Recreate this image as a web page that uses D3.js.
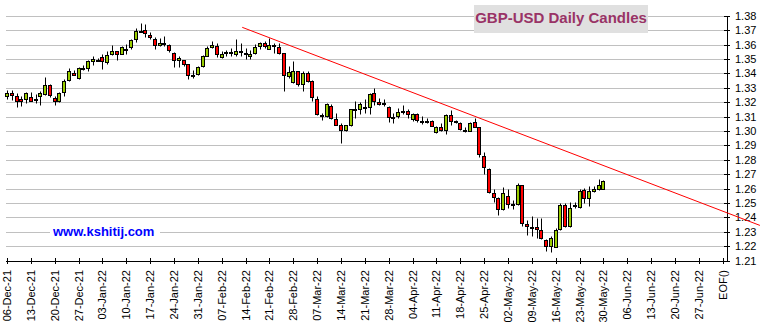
<!DOCTYPE html>
<html>
<head>
<meta charset="utf-8">
<script src="https://cdn.jsdelivr.net/npm/d3@7"></script>
<style>
  html, body { margin: 0; padding: 0; background: #fff; }
  svg { display: block; font-family: "Liberation Sans", Arial, sans-serif; }
</style>
</head>
<body>
<svg id="chart" width="760" height="326"></svg>
<script>
// Weekly axis labels (every 5 trading days), last slot is the end-of-file marker
const weekLabels = ["06-Dec-21","13-Dec-21","20-Dec-21","27-Dec-21","03-Jan-22","10-Jan-22","17-Jan-22",
  "24-Jan-22","31-Jan-22","07-Feb-22","14-Feb-22","21-Feb-22","28-Feb-22","07-Mar-22","14-Mar-22",
  "21-Mar-22","28-Mar-22","04-Apr-22","11-Apr-22","18-Apr-22","25-Apr-22","02-May-22","09-May-22",
  "16-May-22","23-May-22","30-May-22","06-Jun-22","13-Jun-22","20-Jun-22","27-Jun-22","EOF()"];

const priceTicks = [1.21,1.22,1.23,1.24,1.25,1.26,1.27,1.28,1.29,1.30,1.31,1.32,1.33,1.34,1.35,1.36,1.37,1.38];

// Daily OHLC, one entry per trading day from 06-Dec-21 to 30-May-22
const open = [1.3242,1.3265,1.3244,1.3219,1.3224,1.3238,1.3220,1.3242,1.3254,1.3323,
  1.3231,1.3208,1.3272,1.3352,1.3405,1.3369,1.3437,1.3437,1.3483,1.3494,
  1.3513,1.3476,1.3534,1.3555,1.3534,1.3570,1.3582,1.3637,1.3694,1.3699,
  1.3667,1.3639,1.3596,1.3603,1.3598,1.3541,1.3492,1.3495,1.3467,1.3390,
  1.3398,1.3449,1.3522,1.3582,1.3587,1.3513,1.3544,1.3546,1.3534,1.3558,
  1.3545,1.3522,1.3541,1.3591,1.3610,1.3571,1.3594,1.3584,1.3541,1.3380,
  1.3339,1.3419,1.3327,1.3403,1.3350,1.3220,1.3111,1.3103,1.3174,1.3087,
  1.3043,1.3005,1.3040,1.3150,1.3150,1.3167,1.3167,1.3262,1.3204,1.3192,
  1.3169,1.3100,1.3103,1.3138,1.3139,1.3085,1.3115,1.3073,1.3072,1.3073,
  1.2994,1.3027,1.3004,1.3112,1.3066,1.3054,1.3004,1.3001,1.3061,1.3027,
  1.2828,1.2736,1.2569,1.2535,1.2458,1.2551,1.2493,1.2497,1.2625,1.2357,
  1.2334,1.2334,1.2315,1.2246,1.2200,1.2195,1.2320,1.2489,1.2338,1.2477,
  1.2472,1.2588,1.2535,1.2581,1.2599,1.2599];

const high = [1.3288,1.3288,1.3261,1.3242,1.3272,1.3272,1.3258,1.3281,1.3375,1.3325,
  1.3242,1.3270,1.3362,1.3437,1.3421,1.3442,1.3460,1.3495,1.3522,1.3506,
  1.3536,1.3559,1.3598,1.3556,1.3587,1.3605,1.3639,1.3713,1.3750,1.3743,
  1.3685,1.3655,1.3644,1.3660,1.3603,1.3548,1.3518,1.3496,1.3468,1.3421,
  1.3453,1.3529,1.3587,1.3623,1.3610,1.3559,1.3564,1.3575,1.3637,1.3610,
  1.3575,1.3564,1.3605,1.3621,1.3628,1.3644,1.3610,1.3614,1.3543,1.3449,
  1.3483,1.3420,1.3414,1.3414,1.3352,1.3244,1.3127,1.3197,1.3185,1.3127,
  1.3057,1.3043,1.3155,1.3209,1.3202,1.3220,1.3267,1.3302,1.3232,1.3225,
  1.3174,1.3127,1.3162,1.3178,1.3150,1.3127,1.3127,1.3103,1.3092,1.3080,
  1.3038,1.3054,1.3119,1.3147,1.3078,1.3061,1.3031,1.3066,1.3089,1.3031,
  1.2858,1.2743,1.2597,1.2542,1.2611,1.2597,1.2523,1.2639,1.2627,1.2380,
  1.2408,1.2396,1.2396,1.2248,1.2269,1.2327,1.2500,1.2500,1.2505,1.2505,
  1.2597,1.2604,1.2616,1.2620,1.2666,1.2657];

const low = [1.3224,1.3215,1.3167,1.3173,1.3196,1.3207,1.3196,1.3178,1.3253,1.3235,
  1.3178,1.3201,1.3242,1.3346,1.3386,1.3364,1.3421,1.3414,1.3456,1.3488,
  1.3433,1.3465,1.3529,1.3490,1.3533,1.3534,1.3568,1.3621,1.3690,1.3655,
  1.3639,1.3573,1.3591,1.3587,1.3548,1.3444,1.3444,1.3453,1.3362,1.3369,
  1.3391,1.3442,1.3518,1.3575,1.3511,1.3506,1.3518,1.3522,1.3518,1.3518,
  1.3499,1.3499,1.3536,1.3568,1.3575,1.3568,1.3541,1.3536,1.3277,1.3369,
  1.3334,1.3316,1.3277,1.3339,1.3208,1.3108,1.3080,1.3096,1.3085,1.3040,
  1.2917,1.3003,1.3038,1.3092,1.3115,1.3127,1.3120,1.3181,1.3181,1.3174,
  1.3061,1.3057,1.3092,1.3115,1.3092,1.3073,1.3061,1.3052,1.3057,1.3033,
  1.2987,1.2997,1.2981,1.3043,1.3054,1.3008,1.2990,1.2997,1.3027,1.2823,
  1.2703,1.2569,1.2505,1.2415,1.2454,1.2465,1.2458,1.2489,1.2338,1.2276,
  1.2269,1.2258,1.2253,1.2165,1.2158,1.2194,1.2315,1.2334,1.2337,1.2465,
  1.2468,1.2500,1.2482,1.2576,1.2592,1.2597];

const close = [1.3265,1.3249,1.3208,1.3210,1.3265,1.3208,1.3219,1.3265,1.3323,1.3249,
  1.3208,1.3265,1.3348,1.3414,1.3387,1.3437,1.3439,1.3486,1.3499,1.3496,
  1.3483,1.3529,1.3557,1.3534,1.3582,1.3572,1.3632,1.3694,1.3693,1.3678,
  1.3651,1.3598,1.3612,1.3612,1.3564,1.3492,1.3506,1.3467,1.3391,1.3392,
  1.3444,1.3522,1.3575,1.3596,1.3534,1.3534,1.3546,1.3545,1.3559,1.3559,
  1.3534,1.3536,1.3582,1.3610,1.3591,1.3598,1.3593,1.3545,1.3391,1.3412,
  1.3414,1.3325,1.3403,1.3346,1.3235,1.3115,1.3110,1.3185,1.3092,1.3045,
  1.3005,1.3040,1.3150,1.3152,1.3185,1.3166,1.3260,1.3209,1.3190,1.3191,
  1.3099,1.3099,1.3134,1.3139,1.3120,1.3115,1.3075,1.3072,1.3073,1.3038,
  1.3029,1.3004,1.3112,1.3073,1.3067,1.3013,1.3003,1.3054,1.3031,1.2840,
  1.2750,1.2576,1.2542,1.2458,1.2569,1.2495,1.2494,1.2625,1.2361,1.2338,
  1.2333,1.2320,1.2258,1.2200,1.2258,1.2315,1.2489,1.2338,1.2465,1.2489,
  1.2586,1.2535,1.2581,1.2599,1.2627,1.2650];

// Falling resistance line: two anchors as [trading-day index, price]
const trendIndex = [49.3, 157.8];
const trendPrice = [1.3720, 1.2345];

const titleText = "GBP-USD Daily Candles";
const siteText = "www.kshitij.com";

const svg = d3.select("#chart");
const W = 760, H = 326;
svg.append("rect").attr("width", W).attr("height", H).attr("fill", "#fff");

// Scales: x in trading-day index (5 per week), y in price
const x = d3.scaleLinear().domain([0, 150]).range([7, 722.7]);
const y = d3.scaleLinear().domain([1.21, 1.38]).range([260.7, 15.8]);
const xr = x.copy().interpolate(d3.interpolateRound);
const yr = y.copy().interpolate(d3.interpolateRound);
const axisX = 727;

// Horizontal grid
svg.append("g").selectAll("line")
  .data(priceTicks.filter(t => t > 1.21))
  .join("line")
  .attr("x1", 6).attr("x2", axisX)
  .attr("y1", d => yr(d) + 0.5).attr("y2", d => yr(d) + 0.5)
  .attr("stroke", "#c0c0c0").attr("stroke-width", 1);

// Title box
svg.append("rect").attr("x", 474).attr("y", 5).attr("width", 174).attr("height", 28).attr("fill", "#e0e0e0");
svg.append("text").attr("x", 561).attr("y", 23).attr("text-anchor", "middle")
  .attr("font-size", 15).attr("font-weight", "bold").attr("fill", "#993366").text(titleText);

// Site label
svg.append("rect").attr("x", 50).attr("y", 224).attr("width", 110).attr("height", 16).attr("fill", "#fff");
svg.append("text").attr("x", 53).attr("y", 236)
  .attr("font-size", 13).attr("font-weight", "bold").attr("fill", "#0000ff").text(siteText);

// Right price axis
const yAxis = svg.append("g").attr("transform", `translate(${axisX},0)`)
  .call(d3.axisRight(yr).tickValues(priceTicks).tickSize(3).tickSizeOuter(0).tickFormat(d3.format(".2f")));
yAxis.select(".domain").attr("stroke", "#000");
yAxis.selectAll(".tick line").attr("x1", -3).attr("stroke", "#000");
yAxis.selectAll(".tick text").attr("x", 8).attr("font-size", 11)
  .attr("font-family", "'Liberation Sans', Arial, sans-serif").attr("fill", "#000");

// Bottom date axis
const xAxis = svg.append("g").attr("transform", `translate(0,${yr(1.21)})`)
  .call(d3.axisBottom(xr).tickValues(d3.range(weekLabels.length).map(k => k * 5))
    .tickSize(3).tickSizeOuter(0).tickFormat((d, k) => weekLabels[k]));
xAxis.select(".domain").attr("d", `M6,0.5H${axisX + 0.5}`).attr("stroke", "#000");
xAxis.selectAll(".tick line").attr("y1", -3).attr("stroke", "#000");
xAxis.selectAll(".tick text")
  .attr("transform", "rotate(-90)")
  .attr("x", -9).attr("y", 0).attr("dy", "0.35em")
  .attr("text-anchor", "end").attr("font-size", 11)
  .attr("font-family", "'Liberation Sans', Arial, sans-serif").attr("fill", "#000");

// Candles
const days = d3.range(open.length);
const candles = svg.append("g");
candles.selectAll("line")
  .data(days).join("line")
  .attr("x1", i => xr(i) + 0.5).attr("x2", i => xr(i) + 0.5)
  .attr("y1", i => yr(high[i]) + 0.5).attr("y2", i => yr(low[i]) + 0.5)
  .attr("stroke", "#000").attr("stroke-width", 1);
candles.selectAll("rect")
  .data(days).join("rect")
  .attr("x", i => xr(i) - 1.5)
  .attr("width", 3)
  .attr("y", i => yr(Math.max(open[i], close[i])) + 0.5)
  .attr("height", i => Math.max(1, yr(Math.min(open[i], close[i])) - yr(Math.max(open[i], close[i]))))
  .attr("fill", i => close[i] >= open[i] ? "#99cc00" : "#ff0000")
  .attr("stroke", "#000").attr("stroke-width", 1);

// Trend line
svg.append("line")
  .attr("x1", x(trendIndex[0])).attr("y1", y(trendPrice[0]))
  .attr("x2", x(trendIndex[1])).attr("y2", y(trendPrice[1]))
  .attr("stroke", "#ff0000").attr("stroke-width", 1);
</script>
</body>
</html>
